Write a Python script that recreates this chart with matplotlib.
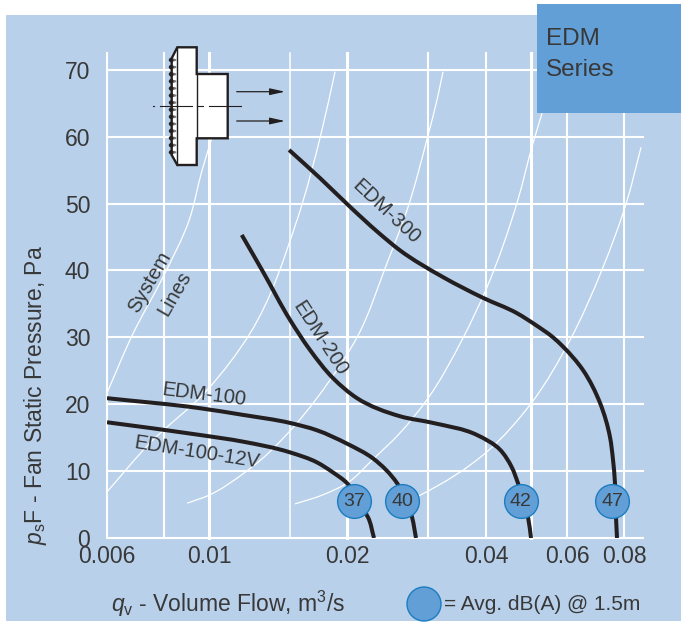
import numpy as np
import matplotlib
matplotlib.use("Agg")
import matplotlib.pyplot as plt
from matplotlib.patches import Polygon, Rectangle, Ellipse, PathPatch
from matplotlib.path import Path

plt.rcParams['font.family'] = ['Liberation Sans', 'DejaVu Sans']
plt.rcParams['mathtext.fontset'] = 'custom'
plt.rcParams['mathtext.rm'] = 'Liberation Sans'
plt.rcParams['mathtext.it'] = 'Liberation Sans:italic'

# fan curves
edm300_q = [0.01493, 0.01743, 0.02026, 0.0233, 0.02601, 0.03226, 0.03942, 0.04673, 0.05141, 0.05595, 0.05884, 0.06501, 0.07079, 0.07442, 0.07556, 0.07631, 0.0767, 0.07709]
edm300_p = [58.0, 53.8, 49.5, 45.7, 43.0, 39.0, 35.9, 33.6, 31.8, 30.0, 28.6, 25.1, 20.2, 15.1, 11.7, 8.2, 3.1, 0]

edm200_q = [0.01178, 0.0131, 0.0150, 0.01658, 0.0186, 0.02098, 0.02601, 0.03069, 0.03824, 0.04292, 0.0455, 0.04695, 0.04938, 0.05012]
edm200_p = [45.3, 39.8, 32.6, 28.1, 23.9, 20.9, 18.2, 17.2, 15.4, 13.2, 10.6, 8.2, 3.1, 0]

edm100_q = [0.006, 0.00956, 0.01186, 0.0150, 0.01717, 0.01995, 0.02272, 0.02563, 0.02708, 0.02763, 0.02818]
edm100_p = [20.9, 19.4, 18.4, 17.2, 16.1, 14.1, 11.9, 8.2, 5.0, 3.1, 0]

edm12v_q = [0.006, 0.00956, 0.01186, 0.0150, 0.01717, 0.0186, 0.01995, 0.02129, 0.02216, 0.02284]
edm12v_p = [17.3, 15.4, 14.4, 12.8, 11.3, 9.8, 8.2, 4.9, 3.1, 0]

# thin white system lines
sys1_q = [0.006, 0.00684, 0.00794, 0.00905, 0.00966, 0.01015]
sys1_p = [21.7, 30.6, 39.0, 47.5, 55.0, 59.9]
sys2_q = [0.006, 0.00744, 0.0099, 0.01228, 0.01553, 0.0176, 0.01879]
sys2_p = [6.9, 14.2, 22.1, 30.6, 47.5, 61.0, 69.7]
sys3_q = [0.00896, 0.01, 0.01191, 0.01297, 0.01553, 0.01832, 0.02098, 0.02438, 0.02694, 0.02993, 0.03131, 0.03226]
sys3_p = [5.2, 6.4, 9.7, 11.7, 17.2, 23.6, 30.0, 41.1, 49.0, 60.2, 65.5, 69.7]
sys4_q = [0.01538, 0.0176, 0.02015, 0.02267, 0.02601, 0.02993, 0.03566, 0.04021, 0.04673, 0.05062, 0.05296]
sys4_p = [5.1, 6.4, 8.4, 11.7, 15.7, 20.9, 29.9, 37.5, 50.1, 59.0, 63.5]
sys5_q = [0.02641, 0.02876, 0.04021, 0.05037, 0.06094, 0.07151, 0.0811, 0.08694]
sys5_p = [5.2, 6.4, 12.9, 20.3, 29.6, 40.1, 50.5, 58.4]

# noise markers
db_q = [0.02066, 0.02628, 0.04759, 0.07535]
db_p = [5.5, 5.5, 5.5, 5.5]
db_labels = ["37", "40", "42", "47"]

x_ticks = [0.006, 0.01, 0.02, 0.04, 0.06, 0.08]
x_tick_labels = ["0.006", "0.01", "0.02", "0.04", "0.06", "0.08"]
y_ticks = [0, 10, 20, 30, 40, 50, 60, 70]
grid_thin = [0.015]
grid_mid = [0.006, 0.008, 0.03, 0.04, 0.06, 0.08]
grid_thick = [0.01, 0.02, 0.05]

W, H = 681, 624
PANEL = "#B8D0EA"
BOX = "#629FD6"
DARK = "#231F20"
TEXT = "#383838"


def curve(q, p):
    # bezier path through the read points, built in log q so it bends evenly on the axis
    pts = np.column_stack([np.log10(q) * 460, np.array(p) * 6.69])
    seg = np.linalg.norm(np.diff(pts, axis=0), axis=1)
    d = np.diff(pts, axis=0) / seg[:, None]
    tan = np.zeros_like(pts)
    tan[1:-1] = (seg[1:, None] * d[:-1] + seg[:-1, None] * d[1:]) / (seg[1:] + seg[:-1])[:, None]
    tan[0] = d[0]
    tan[-1] = d[-1]
    verts = [pts[0]]
    for i in range(len(seg)):
        verts.append(pts[i] + tan[i] * seg[i] / 3)
        verts.append(pts[i + 1] - tan[i + 1] * seg[i] / 3)
        verts.append(pts[i + 1])
    verts = np.array(verts)
    verts = np.column_stack([10 ** (verts[:, 0] / 460), verts[:, 1] / 6.69])
    codes = [Path.MOVETO] + [Path.CURVE4] * (len(verts) - 1)
    return Path(verts, codes)


fig = plt.figure(figsize=(W / 100, H / 100), dpi=100, facecolor="white")

# background layer in pixels
bg = fig.add_axes([0, 0, 1, 1], zorder=0)
bg.set_xlim(0, W)
bg.set_ylim(H, 0)
bg.axis("off")
bg.add_patch(Rectangle((6, 15), W - 6, 606, color=PANEL, lw=0))

ax = fig.add_axes([107 / W, 1 - 538 / H, (643 - 107) / W, (538 - 53) / H], zorder=1)
ax.patch.set_alpha(0)
ax.set_xscale("log")
ax.set_xlim(0.006, 0.0878)
ax.set_ylim(0, 72.5)
for s in ax.spines.values():
    s.set_visible(False)

for v in y_ticks:
    ax.axhline(v, color="white", lw=1.5, clip_on=False, zorder=1)
for v in grid_thin:
    ax.axvline(v, color="white", lw=1.1, clip_on=False, zorder=1)
for v in grid_mid:
    ax.axvline(v, color="white", lw=1.5, clip_on=False, zorder=1)
for v in grid_thick:
    ax.axvline(v, color="white", lw=2.2, clip_on=False, zorder=1)

for q, p in [(sys1_q, sys1_p), (sys2_q, sys2_p), (sys3_q, sys3_p), (sys4_q, sys4_p), (sys5_q, sys5_p)]:
    ax.add_patch(PathPatch(curve(q, p), fill=False, edgecolor="white", lw=0.9, zorder=2, clip_on=False))

for q, p in [(edm300_q, edm300_p), (edm200_q, edm200_p), (edm100_q, edm100_p), (edm12v_q, edm12v_p)]:
    ax.add_patch(PathPatch(curve(q, p), fill=False, edgecolor=DARK, lw=2.9, zorder=3, capstyle="butt", joinstyle="round"))

ax.scatter(db_q, db_p, s=590, color=BOX, edgecolor="#1B7DC0", linewidth=1.0, zorder=4, clip_on=False)
for q, p, t in zip(db_q, db_p, db_labels):
    ax.text(q, p, t, ha="center", va="center", fontsize=14, color=TEXT, zorder=5)

ax.minorticks_off()
ax.set_xticks(x_ticks)
ax.set_xticklabels(x_tick_labels)
ax.set_yticks(y_ticks)
ax.tick_params(axis="both", length=0, labelsize=16.5, labelcolor=TEXT)
ax.tick_params(axis="x", pad=5)
ax.tick_params(axis="y", pad=12)

# overlay in pixels: icon, box, labels
top = fig.add_axes([0, 0, 1, 1], zorder=2)
top.set_xlim(0, W)
top.set_ylim(H, 0)
top.axis("off")
top.patch.set_alpha(0)

top.add_patch(Rectangle((537, 4), W - 537, 109, color=BOX, lw=0))
top.text(546, 39, "EDM", fontsize=17.5, color=TEXT, va="center")
top.text(546, 70, "Series", fontsize=17.5, color=TEXT, va="center")

# fan outline
top.add_patch(Polygon([(177.3, 47.3), (196.7, 47.3), (196.7, 74), (227.7, 74), (227.7, 138.3),
                       (196.7, 138.3), (196.7, 165), (177.3, 165), (171.7, 155), (171.7, 58.3)],
                      closed=True, facecolor="white", edgecolor=DARK, lw=1.7, zorder=2))
top.plot([177.3, 177.3], [47.3, 165], color=DARK, lw=1.0, zorder=3)
top.plot([196.7, 196.7], [74, 138.3], color=DARK, lw=1.0, zorder=3)
for i in range(14):
    yy = 60 + i * 7.1
    top.add_patch(Ellipse((172.5, yy), 8, 3, color="#777777", lw=0, zorder=3))
    top.add_patch(Ellipse((171.2, yy), 4.6, 4.6, color=DARK, lw=0, zorder=4))
for a, b in [(153, 154), (160, 192), (197, 203), (209, 241)]:
    top.plot([a, b], [106.3, 106.3], color=DARK, lw=0.8, zorder=5)
for yy in [91.7, 121]:
    top.annotate("", xy=(285, yy), xytext=(236.7, yy),
                 arrowprops=dict(arrowstyle="-|>,head_length=0.9,head_width=0.2", color=DARK, lw=0.9,
                                 shrinkA=0, shrinkB=0))

top.text(386, 212, "EDM-300", fontsize=14.5, color=TEXT, rotation=-43, ha="center", va="center", rotation_mode="anchor")
top.text(320, 338, "EDM-200", fontsize=14.5, color=TEXT, rotation=-57, ha="center", va="center", rotation_mode="anchor")
top.text(204, 395, "EDM-100", fontsize=14.5, color=TEXT, rotation=-7, ha="center", va="center", rotation_mode="anchor")
top.text(197, 452, "EDM-100-12V", fontsize=14.5, color=TEXT, rotation=-9, ha="center", va="center", rotation_mode="anchor")
top.text(150, 282, "System", fontsize=14.5, color=TEXT, rotation=60, ha="center", va="center", rotation_mode="anchor")
top.text(175, 293, "Lines", fontsize=14.5, color=TEXT, rotation=60, ha="center", va="center", rotation_mode="anchor")

top.text(36, 395, r"$\mathit{p}_{\mathrm{s}}$F - Fan Static Pressure, Pa", fontsize=16.5, color=TEXT,
         rotation=90, ha="center", va="center")
top.text(228, 604, r"$\mathit{q}_{\mathrm{v}}$ - Volume Flow, m$^{3}$/s", fontsize=16.5, color=TEXT,
         ha="center", va="center")

top.add_patch(Ellipse((424, 604), 34, 34, facecolor=BOX, edgecolor="#1B7DC0", lw=1.0))
top.text(444, 604, "= Avg. dB(A) @ 1.5m", fontsize=15, color=TEXT, va="center")

fig.savefig("out.png", dpi=100)
